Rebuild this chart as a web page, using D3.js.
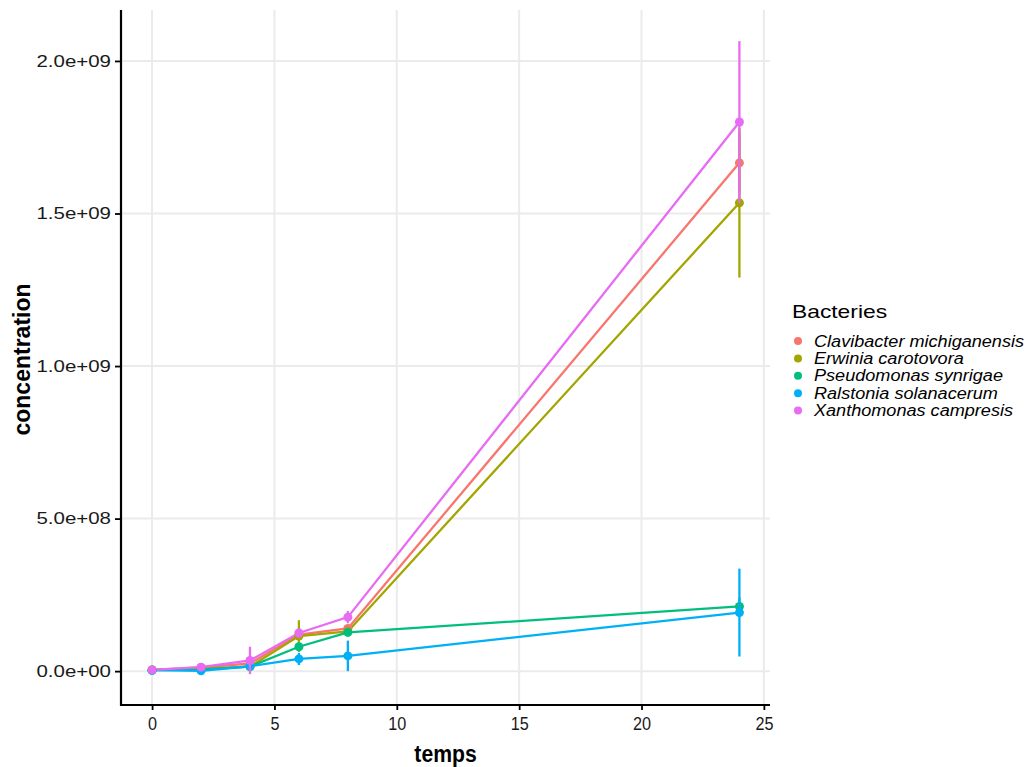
<!DOCTYPE html>
<html>
<head>
<meta charset="utf-8">
<script src="https://cdn.jsdelivr.net/npm/d3@7"></script>
<style>
  body { margin: 0; background: #fff; }
  svg { display: block; }
</style>
</head>
<body>
<svg width="1029" height="767"></svg>
<script>
// Data
const temps = [0, 2, 4, 6, 8, 24];
const bacteries = ['Clavibacter michiganensis', 'Erwinia carotovora', 'Pseudomonas synrigae', 'Ralstonia solanacerum', 'Xanthomonas campresis'];
const colors = ['#F8766D', '#A3A500', '#00BF7D', '#00B0F6', '#E76BF3'];

const clavibacterMean = [4e6, 1.2e7, 2.5e7, 1.2e8, 1.4e8, 1.666e9];
const clavibacterSd = [1e6, 3e6, 1e7, 2e7, 1e7, 1.0e8];
const erwiniaMean = [4e6, 8e6, 1.5e7, 1.15e8, 1.3e8, 1.535e9];
const erwiniaSd = [1e6, 2e6, 5e6, 5.2e7, 1e7, 2.45e8];
const pseudomonasMean = [3e6, 5e6, 1.5e7, 8e7, 1.27e8, 2.12e8];
const pseudomonasSd = [1e6, 2e6, 5e6, 1e7, 1e7, 3e7];
const ralstoniaMean = [3e6, 1e6, 1.6e7, 4e7, 5e7, 1.92e8];
const ralstoniaSd = [1e6, 1e6, 5e6, 2e7, 5e7, 1.44e8];
const xanthomonasMean = [4e6, 1.3e7, 3.5e7, 1.25e8, 1.77e8, 1.8e9];
const xanthomonasSd = [1e6, 3e6, 4.5e7, 1.5e7, 2e7, 2.65e8];

const xTicks = [0, 5, 10, 15, 20, 25];
const yTicks = [0, 5e8, 1e9, 1.5e9, 2e9];
const yTickLabels = ['0.0e+00', '5.0e+08', '1.0e+09', '1.5e+09', '2.0e+09'];

// widen text a bit, the reference glyphs look horizontally stretched
function stretch(sel, k) {
    sel.each(function () {
        const w = this.getComputedTextLength();
        d3.select(this).attr('textLength', w * k).attr('lengthAdjust', 'spacingAndGlyphs');
    });
}

function drawChart() {
    const svg = d3.select('svg');
    const panel = { left: 121, right: 770, top: 10, bottom: 705 };

    const means = [clavibacterMean, erwiniaMean, pseudomonasMean, ralstoniaMean, xanthomonasMean];
    const sds = [clavibacterSd, erwiniaSd, pseudomonasSd, ralstoniaSd, xanthomonasSd];
    const series = bacteries.map((name, i) => ({
        name,
        color: colors[i],
        values: temps.map((t, j) => ({ t, m: means[i][j], sd: sds[i][j] }))
    }));

    const xScale = d3.scaleLinear()
        .domain([-1.27, 25.25])
        .range([panel.left, panel.right]);
    const yScale = d3.scaleLinear()
        .domain([-1.11e8, 2.167e9])
        .range([panel.bottom, panel.top]);

    // Grid
    svg.append('g')
        .selectAll('line')
        .data(xTicks)
        .join('line')
        .attr('x1', d => xScale(d)).attr('x2', d => xScale(d))
        .attr('y1', panel.top).attr('y2', panel.bottom)
        .attr('stroke', '#ebebeb').attr('stroke-width', 2);
    svg.append('g')
        .selectAll('line')
        .data(yTicks)
        .join('line')
        .attr('x1', panel.left).attr('x2', panel.right)
        .attr('y1', d => yScale(d)).attr('y2', d => yScale(d))
        .attr('stroke', '#ebebeb').attr('stroke-width', 2);

    // Lines
    const line = d3.line().x(d => xScale(d.t)).y(d => yScale(d.m));
    svg.append('g')
        .selectAll('path')
        .data(series)
        .join('path')
        .attr('d', d => line(d.values))
        .attr('fill', 'none')
        .attr('stroke', d => d.color)
        .attr('stroke-width', 2.3);

    // Points + error bars
    const groups = svg.append('g')
        .selectAll('g')
        .data(series)
        .join('g');
    groups.selectAll('line')
        .data(d => d.values.map(v => ({ ...v, color: d.color })))
        .join('line')
        .attr('x1', d => xScale(d.t)).attr('x2', d => xScale(d.t))
        .attr('y1', d => yScale(d.m - d.sd)).attr('y2', d => yScale(d.m + d.sd))
        .attr('stroke', d => d.color)
        .attr('stroke-width', 2.3);
    groups.selectAll('circle')
        .data(d => d.values.map(v => ({ ...v, color: d.color })))
        .join('circle')
        .attr('cx', d => xScale(d.t))
        .attr('cy', d => yScale(d.m))
        .attr('r', 4.5)
        .attr('fill', d => d.color);

    // Axes
    const xAxis = d3.axisBottom(xScale).tickValues(xTicks).tickSize(5).tickPadding(7);
    const yAxis = d3.axisLeft(yScale).tickValues(yTicks)
        .tickFormat((d, i) => yTickLabels[i]).tickSize(6).tickPadding(4);
    const gx = svg.append('g')
        .attr('transform', `translate(0, ${panel.bottom})`)
        .call(xAxis);
    const gy = svg.append('g')
        .attr('transform', `translate(${panel.left}, 0)`)
        .call(yAxis);
    [gx, gy].forEach(g => {
        g.select('.domain').remove();
        g.selectAll('.tick line').attr('stroke', '#000').attr('stroke-width', 1.8);
        g.selectAll('.tick text')
            .attr('fill', '#1a1a1a')
            .style('font-family', 'Liberation Sans, Arial, sans-serif');
    });
    gx.selectAll('.tick text').style('font-size', '18px');
    stretch(gx.selectAll('.tick text'), 0.9);
    gy.selectAll('.tick text').style('font-size', '16.5px');
    stretch(gy.selectAll('.tick text'), 1.24);

    svg.append('line')
        .attr('x1', panel.left).attr('x2', panel.right)
        .attr('y1', panel.bottom).attr('y2', panel.bottom)
        .attr('stroke', '#000').attr('stroke-width', 2.2);
    svg.append('line')
        .attr('x1', panel.left).attr('x2', panel.left)
        .attr('y1', panel.top).attr('y2', panel.bottom + 1)
        .attr('stroke', '#000').attr('stroke-width', 2.2);

    // Axis titles
    const xt = svg.append('text')
        .text('temps')
        .attr('x', (panel.left + panel.right) / 2)
        .attr('y', 762)
        .style('text-anchor', 'middle')
        .style('font-family', 'Liberation Sans, Arial, sans-serif')
        .style('font-weight', 'bold')
        .style('font-size', '23px');
    stretch(xt, 0.92);
    const yt = svg.append('text')
        .text('concentration')
        .attr('transform', `translate(30, ${(panel.top + panel.bottom) / 2 + 2}) rotate(-90)`)
        .style('text-anchor', 'middle')
        .style('font-family', 'Liberation Sans, Arial, sans-serif')
        .style('font-weight', 'bold')
        .style('font-size', '23px');
    stretch(yt, 1.0);

    // Legend
    const legend = svg.append('g').attr('transform', 'translate(792, 0)');
    const lt = legend.append('text')
        .text('Bacteries')
        .attr('x', 0).attr('y', 318)
        .style('font-family', 'Liberation Sans, Arial, sans-serif')
        .style('font-size', '19px');
    stretch(lt, 1.2);
    const items = legend.selectAll('.item')
        .data(series)
        .join('g')
        .attr('class', 'item')
        .attr('transform', (d, i) => `translate(0, ${341 + i * 17.4})`);
    items.append('circle')
        .attr('cx', 6).attr('cy', 0).attr('r', 4)
        .attr('fill', d => d.color);
    const it = items.append('text')
        .text(d => d.name)
        .attr('x', 22).attr('y', 5.5)
        .style('font-family', 'Liberation Sans, Arial, sans-serif')
        .style('font-style', 'italic')
        .style('font-size', '16px');
    stretch(it, 1.13);
}

window.addEventListener('load', drawChart);
</script>
</body>
</html>
